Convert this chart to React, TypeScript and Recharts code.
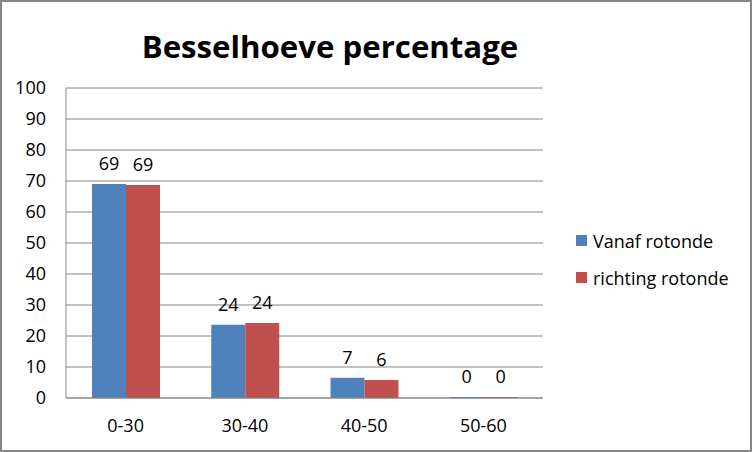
import React from 'react';
import { BarChart, Bar, XAxis, YAxis, CartesianGrid, Legend, LabelList } from 'recharts';

const categories = ['0-30', '30-40', '40-50', '50-60'];
const vanafRotonde = [69.0, 23.6, 6.5, 0.3];
const richtingRotonde = [68.7, 24.2, 5.8, 0.3];
const yTicks = [0, 10, 20, 30, 40, 50, 60, 70, 80, 90, 100];
const seriesNames = ['Vanaf rotonde', 'richting rotonde'];
const seriesColors = ['#4F81BD', '#C0504D'];
const title = 'Besselhoeve percentage';

const data = categories.map((c, i) => ({
  category: c,
  vanaf: vanafRotonde[i],
  richting: richtingRotonde[i],
}));

const FONT = '"Open Sans", "Liberation Sans", sans-serif';
const GRAY = '#868686';
const FS = 18;

const renderLegend = (props: any) => {
  const payload = props.payload || [];
  return (
    <div style={{ fontFamily: FONT, fontSize: FS, color: '#000' }}>
      {payload.map((p: any, i: number) => (
        <div key={i} style={{ display: 'flex', alignItems: 'center', height: 37 }}>
          <span style={{ display: 'inline-block', width: 11, height: 11, background: p.color, marginRight: 6 }} />
          <span>{p.value}</span>
        </div>
      ))}
    </div>
  );
};

export default function App() {
  return (
    <div style={{ position: 'absolute', left: 0, top: 0, width: 752, height: 452 }}>
      <div style={{ position: 'absolute', left: 0, top: 0, width: 752, height: 452, boxSizing: 'border-box', border: `2px solid ${GRAY}`, pointerEvents: 'none', zIndex: 2 }} />
      <BarChart
        width={752}
        height={452}
        data={data}
        margin={{ top: 88, right: 209, bottom: 24, left: 26 }}
        barGap={0}
        barSize={34}
        style={{ fontFamily: FONT }}
      >
        <text x={330} y={58} textAnchor="middle" fontFamily={FONT} fontWeight="bold" fontSize={31.2} fill="#000">
          {title}
        </text>
        <CartesianGrid vertical={false} stroke={GRAY} strokeWidth={1} />
        <XAxis
          dataKey="category"
          height={30}
          axisLine={{ stroke: GRAY }}
          tickLine={false}
          tickSize={0}
          tickMargin={21}
          tick={{ fill: '#000', fontSize: FS, fontFamily: FONT }}
        />
        <YAxis
          width={40}
          domain={[0, 100]}
          ticks={yTicks}
          interval={0}
          axisLine={{ stroke: GRAY }}
          tickLine={false}
          tickSize={0}
          tickMargin={20}
          tick={{ fill: '#000', fontSize: FS, fontFamily: FONT }}
        />
        <Legend
          layout="horizontal"
          align="center"
          verticalAlign="middle"
          content={renderLegend}
          wrapperStyle={{ left: 576, top: 222, width: 175, height: 80 }}
        />
        <Bar dataKey="vanaf" name={seriesNames[0]} fill={seriesColors[0]} isAnimationActive={false}>
          <LabelList dataKey="vanaf" position="top" offset={14} formatter={(v: any) => Math.round(Number(v))} fill="#000" fontSize={FS} fontFamily={FONT} />
        </Bar>
        <Bar dataKey="richting" name={seriesNames[1]} fill={seriesColors[1]} isAnimationActive={false}>
          <LabelList dataKey="richting" position="top" offset={14} formatter={(v: any) => Math.round(Number(v))} fill="#000" fontSize={FS} fontFamily={FONT} />
        </Bar>
      </BarChart>
    </div>
  );
}
